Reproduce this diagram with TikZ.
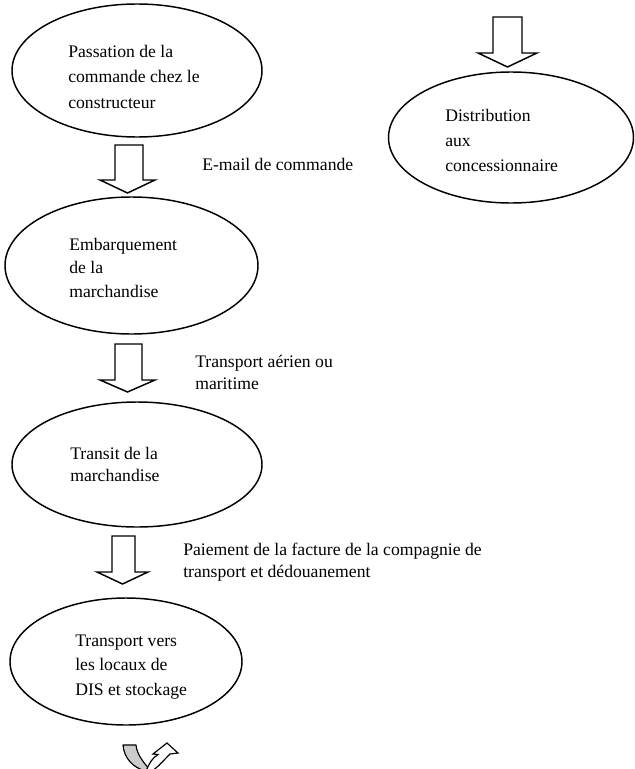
\documentclass[tikz,border=0pt]{standalone}
\usepackage{fontspec}
\setmainfont{Liberation Serif}
\usetikzlibrary{shapes.geometric}
\newcommand\pxu{0.68pt}
\newcommand\txtlines[2]{\vtop{\baselineskip=#1\lineskiplimit=-20pt\halign{##\hfil\cr#2\cr}}}
\newcommand\blockarrow[7]{%
  \draw[blk] (#1,#5) -- (#2,#5) -- (#2,#6) -- (#4,#6) -- ({(#3+#4)/2},#7) -- (#3,#6) -- (#1,#6) -- cycle;}
\tikzset{
  ell/.style={draw, ellipse, line width=1pt, inner sep=0pt},
  txt/.style={anchor=base west, inner sep=0pt, font=\fontsize{12pt}{14pt}\selectfont},
  blk/.style={draw, fill=white, line width=1pt, line join=miter},
}
\begin{document}
\begin{tikzpicture}[x=0.68pt, y=-0.68pt]
\useasboundingbox (0,0) rectangle (635,769);
% ellipses
\node[ell, minimum width=250*\pxu, minimum height=133*\pxu] (e1) at (137,70.5) {};
\node[ell, minimum width=253*\pxu, minimum height=137*\pxu] (e2) at (131.5,265.5) {};
\node[ell, minimum width=250*\pxu, minimum height=125*\pxu] (e3) at (137,464.5) {};
\node[ell, minimum width=232*\pxu, minimum height=127*\pxu] (e4) at (126,661.5) {};
\node[ell, minimum width=245*\pxu, minimum height=131*\pxu] (e5) at (511,137.5) {};
% texts in ellipses
\node[txt] (t1) at (68,58) {\txtlines{17pt}{Passation de la\cr commande chez le\cr constructeur}};
\node[txt] (t2) at (69,250) {\txtlines{16.3pt}{Embarquement\cr de la\cr marchandise}};
\node[txt] (t3) at (70,459) {\txtlines{15.6pt}{Transit de la\cr marchandise}};
\node[txt] (t4) at (75,646) {\txtlines{16.7pt}{Transport vers\cr les locaux de\cr DIS et stockage}};
\node[txt] (t5) at (445,122) {\txtlines{16.7pt}{Distribution\cr aux\cr concessionnaire}};
% labels
\node[txt] (l1) at (202,170) {E-mail de commande};
\node[txt] (l2) at (195,367) {\txtlines{15.6pt}{Transport aérien ou\cr maritime}};
\node[txt] (l3) at (183,555) {\txtlines{15pt}{Paiement de la facture de la compagnie de\cr transport et dédouanement}};
% block arrows
\blockarrow{115}{143}{100}{155}{145}{180}{193}
\blockarrow{115}{142}{100}{155}{344}{380}{392}
\blockarrow{112}{135}{97}{148}{536}{572}{584}
\blockarrow{493}{522}{478}{537}{17}{53}{67}
% curved arrow at the bottom
\begin{scope}
\clip (0,0) rectangle (635,769);
\filldraw[fill=gray!40, line width=0.8pt, line join=round]
  (123,745) .. controls (124,758) and (133,768) .. (146,771)
  -- (151,771) .. controls (144,763) and (137,755) .. (136,745) -- cycle;
\filldraw[fill=white, line width=0.8pt, line join=miter]
  (146,771) .. controls (149,764) and (152,758) .. (158,754.5)
  -- (153,754) -- (167,743) -- (178,753) -- (170,754)
  .. controls (164,760) and (158,767) .. (152,771) -- cycle;
\end{scope}
\end{tikzpicture}
\end{document}
